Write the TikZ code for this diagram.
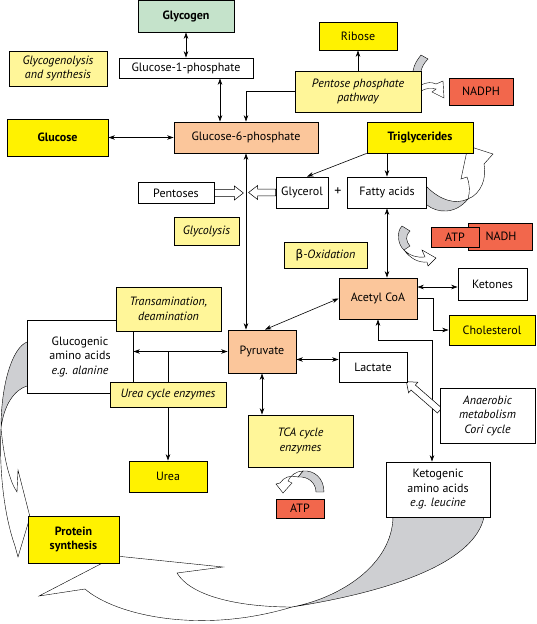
\documentclass[tikz,border=0pt]{standalone}
\usepackage{fontspec}
\setmainfont{PT Sans}
\newfontfamily\greekfont{DejaVu Sans}
\usetikzlibrary{arrows.meta}
\usetikzlibrary{positioning, backgrounds}
\definecolor{mygreen}{RGB}{197,227,203}
\definecolor{myyellow}{RGB}{255,242,0}
\definecolor{mypale}{RGB}{255,246,153}
\definecolor{mypeach}{RGB}{251,198,155}
\definecolor{myred}{RGB}{242,103,76}
\definecolor{mygray}{RGB}{206,207,210}

\tikzset{
  box/.style={draw, line width=0.8pt, align=center, inner sep=1pt, font=\fontsize{12}{14.5}\selectfont},
  plainbox/.style={box, fill=white},
  enzyme/.style={box, fill=mypale, font=\fontsize{12}{14.5}\selectfont\itshape},
  product/.style={box, fill=myyellow},
  keybox/.style={box, fill=myyellow, font=\fontsize{12}{14.5}\selectfont\bfseries},
  metab/.style={box, fill=mypeach},
  energy/.style={box, fill=myred},
  link/.style={line width=0.6pt, >={Stealth[length=6.5pt,width=4.5pt]}},
  ribbon/.style={draw, line width=0.4pt, fill=white},
}

% hollow block arrow: start, angle, length
\newcommand{\blockarrow}[3]{%
  \draw[line width=0.5pt, fill=white, shift={#1}, rotate=#2] (0,-3.3) -- ({#3-9},-3.3) -- ({#3-9},-7) -- (#3,0) -- ({#3-9},7) -- ({#3-9},3.3) -- (0,3.3) -- cycle;}

\begin{document}
\begin{tikzpicture}[x=1pt, y=-1pt]
  \useasboundingbox (0,0) rectangle (537,624);

%boxes:
  \node[keybox, fill=mygreen, minimum width=96, minimum height=32] (glycogen) at (186,16) {Glycogen};
  \node[plainbox, minimum width=134, minimum height=20] (g1p) at (186,68) {Glucose-1-phosphate};
  \node[enzyme, minimum width=98, minimum height=35] (glycsyn) at (58,68.5) {Glycogenolysis\\and synthesis};
  \node[keybox, minimum width=101, minimum height=37] (glucose) at (57.5,137.5) {Glucose};
  \node[metab, minimum width=144, minimum height=31] (g6p) at (246,137.5) {Glucose-6-phosphate};
  \node[product, minimum width=78, minimum height=28] (ribose) at (358,36) {Ribose};
  \node[enzyme, minimum width=126, minimum height=41] (ppp) at (358,91.5) {Pentose phosphate\\pathway};
  \node[energy, minimum width=64, minimum height=27] (nadph) at (481,91.5) {NADPH};
  \node[keybox, minimum width=106, minimum height=31] (trig) at (420,137.5) {Triglycerides};
  \node[plainbox, minimum width=52, minimum height=31] (glycerol) at (302,192.5) {Glycerol};
  \node[font=\fontsize{14}{14}\selectfont] (plus) at (338,192) {+};
  \node[plainbox, minimum width=79, minimum height=31] (fatty) at (387,192.5) {Fatty acids};
  \node[plainbox, minimum width=76, minimum height=21] (pentoses) at (176,193) {Pentoses};
  \node[enzyme, minimum width=65, minimum height=28] (glycolysis) at (206.5,231) {Glycolysis};
  \node[enzyme, minimum width=83, minimum height=26] (betaox) at (325.5,255) {{\upshape\greekfont β}-Oxidation};
  \node[metab, minimum width=78, minimum height=41] (acetyl) at (378,298.5) {Acetyl CoA};
  \node[energy, minimum width=64, minimum height=27] (nadh) at (500,236.5) {\hspace*{2pt}NADH};
  \node[energy, minimum width=48, minimum height=20] (atpa) at (455,237) {ATP};
  \node[plainbox, minimum width=69, minimum height=32] (ketones) at (492.5,284) {Ketones};
  \node[product, minimum width=86, minimum height=30] (chol) at (492,330) {Cholesterol};
  \node[metab, minimum width=68, minimum height=43] (pyruvate) at (262,351.5) {Pyruvate};
  \node[plainbox, minimum width=68, minimum height=30] (lactate) at (373,367) {Lactate};
  \node[plainbox, minimum width=106, minimum height=73] (glucogenic) at (80,356.5) {Glucogenic\\amino acids\\\textit{e.g. alanine}};
  \node[enzyme, minimum width=105, minimum height=44] (transam) at (168.5,309) {Transamination,\\deamination};
  \node[enzyme, minimum width=116, minimum height=25] (ureacyc) at (168,394.5) {Urea cycle enzymes};
  \node[product, minimum width=78, minimum height=31] (urea) at (168,476.5) {Urea};
  \node[plainbox, font=\fontsize{12}{14.5}\selectfont\itshape, minimum width=95, minimum height=55] (anaerobic) at (487.5,415.5) {Anaerobic\\metabolism\\Cori cycle};
  \node[plainbox, minimum width=104, minimum height=55] (ketogenic) at (438,489.5) {Ketogenic\\amino acids\\\textit{e.g. leucine}};
  \node[enzyme, minimum width=105, minimum height=52] (tca) at (300.5,441) {TCA cycle\\enzymes};
  \node[energy, minimum width=48, minimum height=19] (atpb) at (300,508.5) {ATP};
  \node[keybox, minimum width=91, minimum height=47] (protein) at (73.5,539.5) {Protein\\synthesis};

\begin{scope}[on background layer]
%connectors:
  \draw[link, <->] (glycogen) -- (g1p);
  \draw[link, <->] ([xshift=34pt]g1p.south) -- ([xshift=34pt]g1p.south |- g6p.north);
  \draw[link, ->] (ppp.west) -| (g6p.north);
  \draw[link, ->] (ppp) -- (ribose);
  \draw[link, <->] (glucose) -- (g6p);
  \draw[link, <->] (g6p.south) -- (g6p.south |- pyruvate.north);
  \draw[link, ->] (trig.south -| fatty.north) -- (fatty.north);
  \draw[link, ->] (trig.south west) -- ([xshift=5pt]glycerol.north);
  \draw[link, <->] (fatty.south) -- (fatty.south |- acetyl.north);
  \draw[link, <->] (acetyl.west) -- ([xshift=3pt]pyruvate.north);
  \draw[link, <->] ([yshift=-3pt]ketones.west -| acetyl.east) -- ([yshift=-3pt]ketones.west);
  \draw[link, ->] (acetyl.east) -- ++(16,0) |- (chol.west);
  \draw[link, <->] (acetyl.south) -- ++(0,21) -| ([xshift=-6pt]ketogenic.north);
  \draw[link, <->] ([yshift=-8pt]pyruvate.east) -- ([yshift=-8pt]pyruvate.east -| lactate.west);
  \draw[link, <->] (pyruvate.west -| glucogenic.east) -- (pyruvate.west);
  \draw[link, ->] (pyruvate.west -| urea.north) -- (urea.north);
  \draw[link, <->] (pyruvate.south) -- (pyruvate.south |- tca.north);

%hollow arrows:
  \blockarrow{(pentoses.east)}{0}{29}
  \blockarrow{(glycerol.west)}{180}{27}
  \blockarrow{([yshift=5pt]anaerobic.west)}{139}{44}

%ribbon arrows:
  \draw[ribbon, fill=mygray] (27,342) .. controls (12,348) and (1,385) .. (1,428) .. controls (4,405) and (14,390) .. (27,386);
  \draw[ribbon] (1,428) .. controls (4,460) and (10,482) .. (17,492) -- (18,470) -- (30,517) -- (18,557) -- (15,546) .. controls (4,515) and (-1,470) .. (1,428) -- cycle;
  \draw[ribbon, fill=mygray] (393,517) .. controls (392,565) and (340,598) .. (292,607) .. controls (400,590) and (475,560) .. (484,517);
  \draw[ribbon] (292,607) .. controls (235,607) and (190,595) .. (177,573) -- (223,567) -- (116,556) -- (39,596) -- (85,589) .. controls (115,615) and (200,635) .. (292,607) -- cycle;
  \draw[ribbon, fill=mygray] (413,71) .. controls (414,64) and (418,59) .. (421,55) -- (428,59) .. controls (424,63) and (422,67) .. (421,71);
  \draw[ribbon] (421,85) .. controls (427,82) and (432,82) .. (436,84) -- (443,81) -- (444,98) -- (432,92) -- (436,89) .. controls (431,88) and (426,88) .. (421,91);
  \draw[ribbon, fill=mygray] (427,187) .. controls (440,200) and (455,205) .. (468,199) .. controls (455,215) and (437,213) .. (427,205);
  \draw[ribbon] (468,199) .. controls (470,192) and (470,185) .. (467,177) -- (461,179) -- (468,146) -- (493,154) -- (484,164) .. controls (487,178) and (481,194) .. (468,199) -- cycle;
  \draw[ribbon, fill=mygray] (402,226) .. controls (396,232) and (398,245) .. (404,250) -- (410,246) .. controls (406,242) and (405,235) .. (410,231) -- cycle;
  \draw[ribbon] (404,250) .. controls (410,256) and (418,258) .. (425,257) -- (422,250) -- (436,258) -- (428,266) -- (427,262) .. controls (418,263) and (410,258) .. (404,250) -- cycle;
  \draw[ribbon, fill=mygray] (324,492) .. controls (324,478) and (314,470) .. (303,471) -- (298,477) .. controls (308,476) and (316,483) .. (316,492) -- cycle;
  \draw[ribbon] (303,471) .. controls (296,471) and (290,476) .. (288,481) -- (292,483) -- (283,493) -- (276,484) -- (280,483) .. controls (284,477) and (290,475) .. (298,477) -- cycle;
\end{scope}

\end{tikzpicture}
\end{document}
